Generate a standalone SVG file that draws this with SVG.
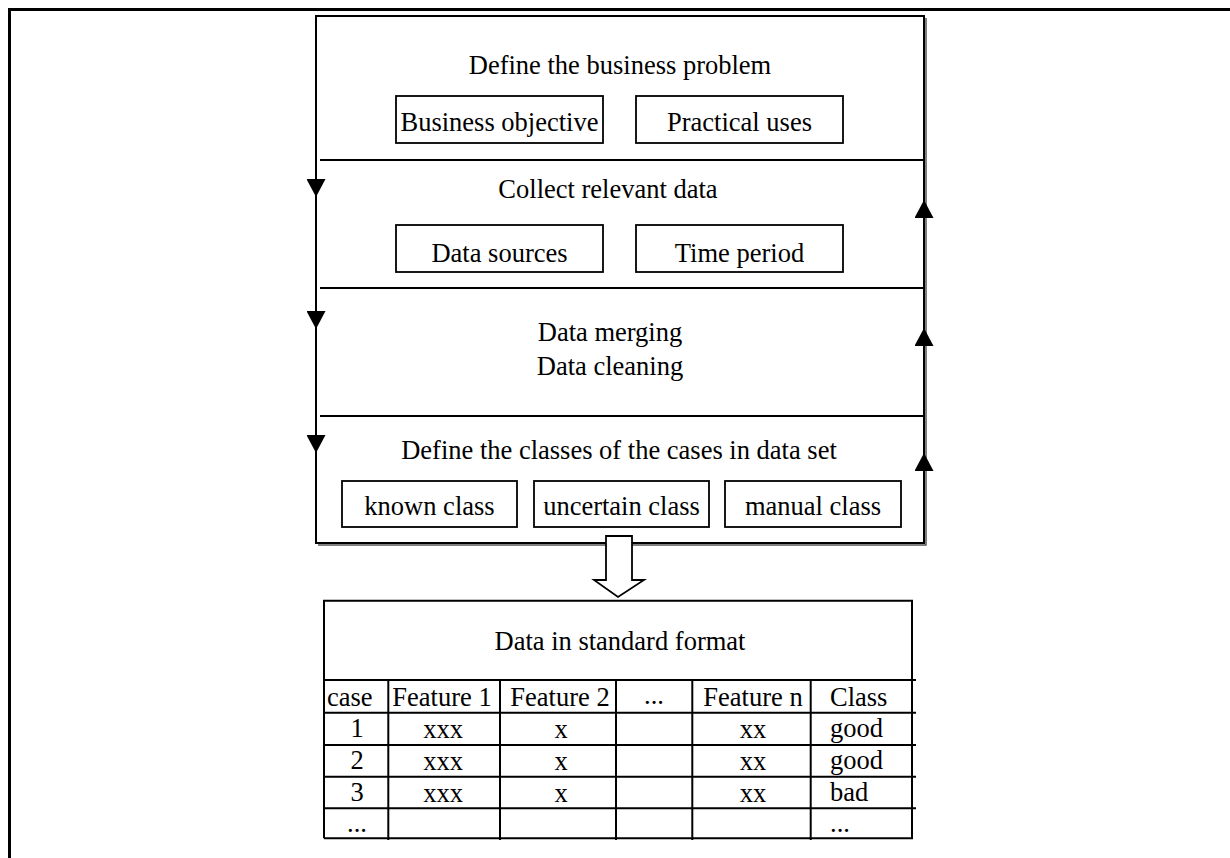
<svg xmlns="http://www.w3.org/2000/svg" width="1230" height="858" viewBox="0 0 1230 858">
  <style>
    text { font-family: "Liberation Serif", "Times New Roman", serif; font-size: 26.5px; fill: #000; }
    .mid { text-anchor: middle; }
    .box { fill: #fff; stroke: #000; stroke-width: 1.8; }
    .rule { stroke: #000; stroke-width: 1.8; fill: none; }
    .grid { stroke: #000; stroke-width: 2; fill: none; }
    .flow { stroke: #000; stroke-width: 2; fill: none; marker-end: url(#head); }
  </style>
  <defs>
    <marker id="head" viewBox="0 0 18 19" refX="18" refY="9.5" markerWidth="18" markerHeight="19" markerUnits="userSpaceOnUse" orient="auto">
      <path d="M0,0 L18,9.5 L0,19 Z" fill="#000"/>
    </marker>
  </defs>

  <rect width="1230" height="858" fill="#fff"/>

  <!-- page frame (top and left edges) -->
  <path d="M9.5,858 V9.5 H1230" fill="none" stroke="#000" stroke-width="3"/>

  <!-- process panel -->
  <g id="process-panel">
    <path d="M318,545 H926 V18" fill="none" stroke="#555" stroke-width="1.5"/>
    <rect x="316" y="16" width="608" height="527" fill="#fff" stroke="#000" stroke-width="2"/>
    <line class="rule" x1="320" y1="160" x2="924" y2="160"/>
    <line class="rule" x1="320" y1="288" x2="924" y2="288"/>
    <line class="rule" x1="320" y1="416" x2="924" y2="416"/>
  </g>

  <g id="step-define-problem">
    <text class="mid" x="620" y="74">Define the business problem</text>
    <g id="business-objective">
      <rect class="box" x="396" y="96" width="207" height="47"/>
      <text class="mid" x="499.5" y="131">Business objective</text>
    </g>
    <g id="practical-uses">
      <rect class="box" x="636" y="96" width="207" height="47"/>
      <text class="mid" x="739.5" y="131">Practical uses</text>
    </g>
  </g>

  <g id="step-collect-data">
    <text class="mid" x="608" y="198">Collect relevant data</text>
    <g id="data-sources">
      <rect class="box" x="396" y="225" width="207" height="47"/>
      <text class="mid" x="499.5" y="262">Data sources</text>
    </g>
    <g id="time-period">
      <rect class="box" x="636" y="225" width="207" height="47"/>
      <text class="mid" x="739.5" y="262">Time period</text>
    </g>
  </g>

  <g id="step-merge-clean">
    <text class="mid" x="610" y="341">Data merging</text>
    <text class="mid" x="610" y="375">Data cleaning</text>
  </g>

  <g id="step-define-classes">
    <text class="mid" x="619" y="459">Define the classes of the cases in data set</text>
    <g id="known-class">
      <rect class="box" x="342" y="481" width="175" height="46"/>
      <text class="mid" x="429.5" y="515">known class</text>
    </g>
    <g id="uncertain-class">
      <rect class="box" x="534" y="481" width="175" height="46"/>
      <text class="mid" x="621.5" y="515">uncertain class</text>
    </g>
    <g id="manual-class">
      <rect class="box" x="725" y="481" width="176" height="46"/>
      <text class="mid" x="813" y="515">manual class</text>
    </g>
  </g>

  <!-- connectors -->
  <g id="connectors">
    <path class="flow" d="M316,16 V197"/>
    <path class="flow" d="M316,197 V329"/>
    <path class="flow" d="M316,329 V453"/>
    <path class="flow" d="M924,543 V453"/>
    <path class="flow" d="M924,453 V328"/>
    <path class="flow" d="M924,328 V200"/>
    <path id="to-table" d="M606,536 H632 V580 H644 L618,597 L594,580 H606 Z" fill="#fff" stroke="#000" stroke-width="1.8" stroke-linejoin="miter"/>
  </g>

  <!-- standard-format data table -->
  <g id="data-table">
    <path class="grid" d="M324,838.3 V600.7 H912 V838.3 H324"/>
    <path class="grid" d="M324,680 H916 M324,712.7 H916 M324,745 H916 M324,776.7 H916 M324,808.3 H916"/>
    <path class="grid" d="M388.3,680 V840 M500,680 V840 M616,680 V840 M692.3,680 V840 M810.7,680 V840"/>
    <text class="mid" x="620" y="650">Data in standard format</text>

    <text x="327" y="706">case</text>
    <text class="mid" x="442" y="706">Feature 1</text>
    <text class="mid" x="560" y="706">Feature 2</text>
    <text class="mid" x="654" y="704">...</text>
    <text class="mid" x="753" y="706">Feature n</text>
    <text x="830" y="706">Class</text>

    <text class="mid" x="357" y="737">1</text>
    <text class="mid" x="443" y="738">xxx</text>
    <text class="mid" x="561" y="738">x</text>
    <text class="mid" x="753" y="738">xx</text>
    <text x="830" y="737">good</text>

    <text class="mid" x="357" y="769">2</text>
    <text class="mid" x="443" y="770">xxx</text>
    <text class="mid" x="561" y="770">x</text>
    <text class="mid" x="753" y="770">xx</text>
    <text x="830" y="769">good</text>

    <text class="mid" x="357" y="801">3</text>
    <text class="mid" x="443" y="802">xxx</text>
    <text class="mid" x="561" y="802">x</text>
    <text class="mid" x="753" y="802">xx</text>
    <text x="830" y="801">bad</text>

    <text class="mid" x="357" y="832">...</text>
    <text x="830" y="832">...</text>
  </g>
</svg>
